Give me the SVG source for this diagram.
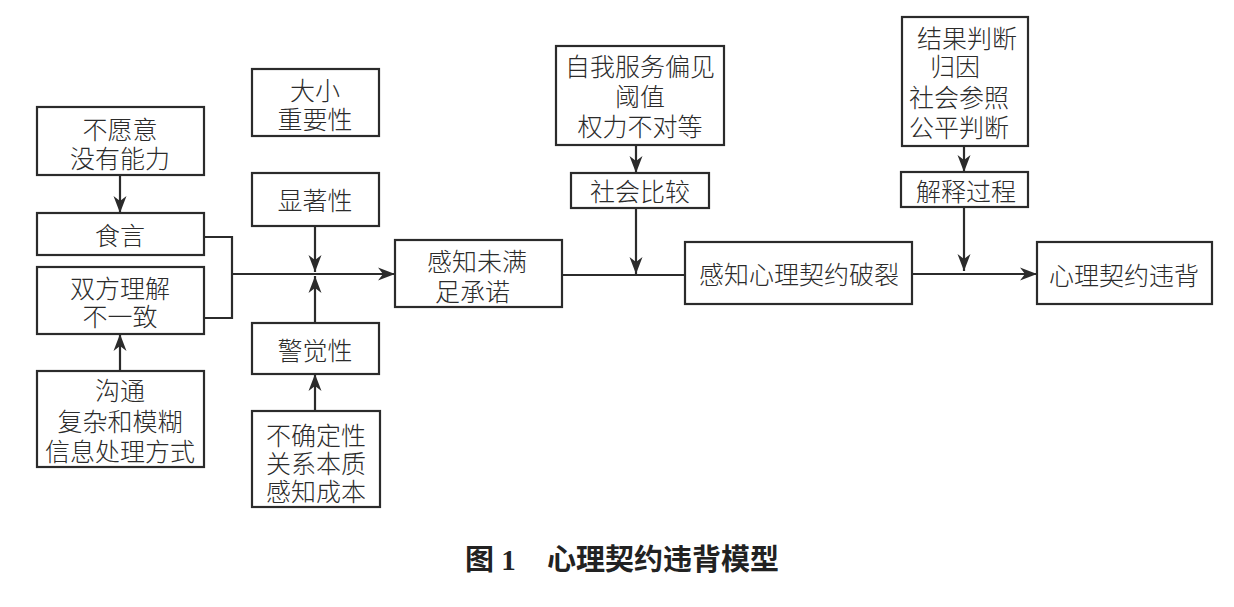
<svg xmlns="http://www.w3.org/2000/svg" width="1234" height="607" viewBox="0 0 1234 607">
<defs>
<marker id="arr" viewBox="-18 -8 20 16" refX="0" refY="0" markerWidth="20" markerHeight="16" markerUnits="userSpaceOnUse" orient="auto">
<path d="M0,0 L-17,-6.5 L-12,0 L-17,6.5 Z" fill="#2b2b2b"/>
</marker>
</defs>
<style>
rect{fill:#fff;stroke:#2b2b2b;stroke-width:2.2}
text{font-family:"Noto Sans CJK SC","Noto Sans CJK TC",sans-serif;font-size:25px;font-weight:300;fill:#2b2b2b;dominant-baseline:central}
.c{text-anchor:middle}
.ln{fill:none;stroke:#2b2b2b;stroke-width:2.2}
.cap{font-family:"Liberation Serif","Noto Sans CJK SC",serif;font-size:29px;font-weight:700;fill:#222;dominant-baseline:alphabetic}
</style>
<rect x="0" y="0" width="1234" height="607" style="fill:#fff;stroke:none"/>
<g id="connectors">
<line class="ln" x1="120" y1="175" x2="120" y2="213" marker-end="url(#arr)"/>
<line class="ln" x1="120" y1="371" x2="120" y2="334" marker-end="url(#arr)"/>
<polyline class="ln" points="204,237 232,237 232,318 204,318"/>
<line class="ln" x1="232" y1="274" x2="395" y2="274" marker-end="url(#arr)"/>
<line class="ln" x1="315" y1="226" x2="315" y2="272" marker-end="url(#arr)"/>
<line class="ln" x1="315" y1="323" x2="315" y2="276" marker-end="url(#arr)"/>
<line class="ln" x1="315" y1="411" x2="315" y2="374" marker-end="url(#arr)"/>
<line class="ln" x1="562" y1="275" x2="685" y2="275"/>
<line class="ln" x1="636" y1="145" x2="636" y2="173" marker-end="url(#arr)"/>
<line class="ln" x1="636" y1="208" x2="636" y2="274" marker-end="url(#arr)"/>
<line class="ln" x1="964" y1="146" x2="964" y2="172" marker-end="url(#arr)"/>
<line class="ln" x1="964" y1="207" x2="964" y2="271" marker-end="url(#arr)"/>
<line class="ln" x1="912" y1="274" x2="1037" y2="274" marker-end="url(#arr)"/>
</g>
<g id="n_buyuanyi">
<rect x="37" y="107" width="167" height="68"/>
<text class="c" x="120" y="128">不愿意</text>
<text class="c" x="120" y="157">没有能力</text>
</g>
<g id="n_shiyan">
<rect x="37" y="213" width="167" height="42"/>
<text class="c" x="120" y="234">食言</text>
</g>
<g id="n_shuangfang">
<rect x="37" y="267" width="167" height="67"/>
<text class="c" x="120" y="287">双方理解</text>
<text class="c" x="120" y="315">不一致</text>
</g>
<g id="n_goutong">
<rect x="37" y="371" width="167" height="96"/>
<text class="c" x="120" y="389">沟通</text>
<text class="c" x="120" y="420">复杂和模糊</text>
<text class="c" x="120" y="450">信息处理方式</text>
</g>
<g id="n_daxiao">
<rect x="252" y="69" width="127" height="67"/>
<text class="c" x="315" y="89">大小</text>
<text class="c" x="315" y="118">重要性</text>
</g>
<g id="n_xianzhu">
<rect x="252" y="173" width="127" height="53"/>
<text class="c" x="315" y="199">显著性</text>
</g>
<g id="n_jingjue">
<rect x="252" y="323" width="127" height="51"/>
<text class="c" x="315" y="349">警觉性</text>
</g>
<g id="n_buqueding">
<rect x="252" y="411" width="128" height="96"/>
<text class="c" x="316" y="434">不确定性</text>
<text class="c" x="316" y="462">关系本质</text>
<text class="c" x="316" y="490">感知成本</text>
</g>
<g id="n_ganzhiweiman">
<rect x="395" y="240" width="167" height="67"/>
<text x="427" y="260">感知未满</text>
<text x="435" y="290">足承诺</text>
</g>
<g id="n_ziwo">
<rect x="556" y="46" width="168" height="99"/>
<text class="c" x="640" y="65">自我服务偏见</text>
<text class="c" x="640" y="95">阈值</text>
<text class="c" x="640" y="125">权力不对等</text>
</g>
<g id="n_shehuibijiao">
<rect x="571" y="173" width="138" height="35"/>
<text class="c" x="640" y="190">社会比较</text>
</g>
<g id="n_polie">
<rect x="685" y="242" width="227" height="62"/>
<text class="c" x="799" y="273">感知心理契约破裂</text>
</g>
<g id="n_jieguo">
<rect x="902" y="17" width="126" height="129"/>
<text x="917" y="37">结果判断</text>
<text x="930" y="65">归因</text>
<text x="909" y="96">社会参照</text>
<text x="909" y="126">公平判断</text>
</g>
<g id="n_jieshi">
<rect x="901" y="172" width="127" height="35"/>
<text class="c" x="966" y="190">解释过程</text>
</g>
<g id="n_weibei">
<rect x="1037" y="242" width="175" height="62"/>
<text class="c" x="1124" y="274">心理契约违背</text>
</g>
<g id="caption">
<text class="cap" x="465" y="570">图 1</text>
<text class="cap" x="547" y="570">心理契约违背模型</text>
</g>
</svg>
